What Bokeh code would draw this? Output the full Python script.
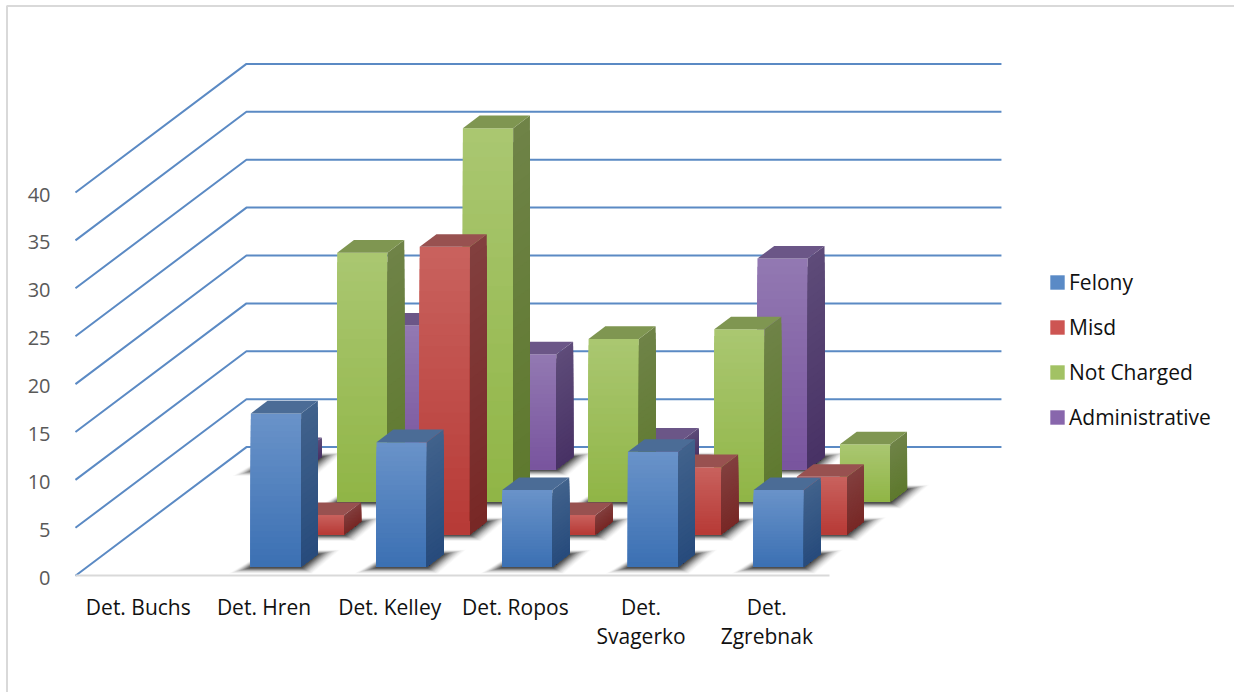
from bokeh.plotting import figure
from bokeh.embed import file_html
from bokeh.resources import INLINE
from bokeh.models import ColumnDataSource, FixedTicker, Legend, LegendItem, LinearAxis, Range1d

# ---- chart values ----
categories = ["Det. Buchs", "Det. Hren", "Det. Kelley", "Det. Ropos", "Det. Svagerko", "Det. Zgrebnak"]
first_line = ["Det. Buchs", "Det. Hren", "Det. Kelley", "Det. Ropos", "Det.", "Det."]
second_line = ["", "", "", "", "Svagerko", "Zgrebnak"]
felony = [0, 16, 13, 8, 12, 8]
misd = [0, 2, 30, 2, 7, 6]
not_charged = [0, 26, 39, 17, 18, 6]
administrative = [2, 15, 12, 3, 22, 0]
value_ticks = [0, 5, 10, 15, 20, 25, 30, 35, 40]

# ---- page geometry and projection ----
W, H = 1234, 692
PX_X = 125.7   # pixels per category
PX_Y = 9.58    # pixels per value unit
ORG_X, ORG_Y = 137.8, 575.2
DX = 171.0 / PX_X
DY = 128.6 / PX_Y
BAR_W = 0.4
BAR_D = 0.098
D0, DSTEP = 0.07, 0.2525


def proj(x, v, d):
    return x + d * DX, v + d * DY


def mix(a, b, t):
    ca = [int(a[i:i + 2], 16) for i in (1, 3, 5)]
    cb = [int(b[i:i + 2], 16) for i in (1, 3, 5)]
    return "#%02x%02x%02x" % tuple(round(p + (q - p) * t) for p, q in zip(ca, cb))


series = [
    ("Felony", felony, dict(ft="#6a93c9", fb="#3b70b3", st="#41628c", sb="#274b7c", top="#4b6c96", sw="#5a8ac6")),
    ("Misd", misd, dict(ft="#c9625e", fb="#b73a36", st="#823f3e", sb="#782826", top="#985150", sw="#cd5552")),
    ("Not Charged", not_charged, dict(ft="#aac771", fb="#90b546", st="#6f8347", sb="#5e792e", top="#7f9651", sw="#a2c264")),
    ("Administrative", administrative, dict(ft="#9279b2", fb="#79549e", st="#5e4b79", sb="#483265", top="#6b5687", sw="#8866ac")),
]

xs, ys, fill, alpha = [], [], [], []


def add(px, py, color, a=1.0):
    xs.append(px)
    ys.append(py)
    fill.append(color)
    alpha.append(a)


def add_shadow(l, r, d):
    ex_px = 1 / PX_X
    ey_px = 1 / PX_Y
    x0, b = proj(l, 0, d)
    x1, _ = proj(r, 0, d)
    sx = 17 * ex_px
    sy = 12.5 * ey_px
    for e, a in ((22, 0.025), (20, 0.035), (18, 0.045), (16, 0.06), (14, 0.07), (12, 0.09),
                 (10, 0.11), (8, 0.13), (6, 0.15), (4, 0.17), (2, 0.2)):
        px = [x0 - e * ex_px, x1 + 0.5 * e * ex_px, x1 + sx + e * ex_px, x0 + sx]
        py = [b - (1 + 0.26 * e) * ey_px, b - (1 + 0.26 * e) * ey_px,
              b + sy + 0.2 * e * ey_px, b + sy + 0.2 * e * ey_px]
        add(px, py, "#000000", a)


STRIPS = 26
for k in (3, 2, 1, 0):
    name, vals, c = series[k]
    d = D0 + k * DSTEP
    for i, v in enumerate(vals):
        if v <= 0:
            continue
        l, r = i - BAR_W / 2, i + BAR_W / 2
        add_shadow(l, r, d)
        # each strip reaches the foot of the bar; the next one paints over it
        for s in range(STRIPS):
            t0, t1 = s / STRIPS, (s + 1) / STRIPS
            v0 = v * (1 - t0)
            a = proj(l, v0, d); b = proj(r, v0, d); e = proj(r, 0, d); f = proj(l, 0, d)
            col = mix(c["ft"], c["fb"], (t0 + t1) / 2)
            add([a[0], b[0], e[0], f[0]], [a[1], b[1], e[1], f[1]], col)
        for s in range(STRIPS):
            t0, t1 = s / STRIPS, (s + 1) / STRIPS
            v0 = v * (1 - t0)
            a = proj(r, v0, d); b = proj(r, v0, d + BAR_D); e = proj(r, 0, d + BAR_D); f = proj(r, 0, d)
            col = mix(c["st"], c["sb"], (t0 + t1) / 2)
            add([a[0], b[0], e[0], f[0]], [a[1], b[1], e[1], f[1]], col)
        a = proj(l, v, d); b = proj(r, v, d); e = proj(r, v, d + BAR_D); f = proj(l, v, d + BAR_D)
        add([a[0], b[0], e[0], f[0]], [a[1], b[1], e[1], f[1]], c["top"])

y_start, y_end = (ORG_Y - H) / PX_Y, ORG_Y / PX_Y
p = figure(width=W, height=H, output_backend="svg", toolbar_location=None,
           x_range=Range1d(-ORG_X / PX_X, (W - ORG_X) / PX_X),
           y_range=Range1d(y_start, y_end),
           min_border=0, outline_line_color=None, background_fill_color="white")
p.grid.visible = False

# walls: value lines running from the front of the floor to the back wall
LEFT = -0.5
RIGHT_BACK = LEFT + (1001.0 - 246.0) / PX_X
gx, gy = [], []
for v in value_ticks:
    x_f, y_f = proj(LEFT, v, 0)
    x_b, y_b = proj(LEFT, v, 1)
    x_e, _ = proj(RIGHT_BACK, v, 1)
    gx.append([x_f, x_b, x_e])
    gy.append([y_f, y_b, y_b])
p.multi_line(gx, gy, line_color="#5b8ac4", line_width=2)

# chart frame (left and top edge)
p.line([(6.5 - ORG_X) / PX_X, (6.5 - ORG_X) / PX_X, (W - ORG_X) / PX_X],
       [y_start, (ORG_Y - 5.5) / PX_Y, (ORG_Y - 5.5) / PX_Y],
       line_color="#d9d9d9", line_width=2)

p.patches(xs="xs", ys="ys", fill_color="fill", fill_alpha="alpha", line_color=None,
          source=ColumnDataSource(dict(xs=xs, ys=ys, fill=fill, alpha=alpha)))

# axes
cat_ticks = list(range(len(categories)))
xa = p.xaxis[0]
xa.fixed_location = 0
xa.bounds = (-0.5, 5.5)
xa.ticker = FixedTicker(ticks=cat_ticks)
xa.major_label_overrides = {i: t for i, t in zip(cat_ticks, first_line)}
xa.axis_line_color = "#d9d9d9"
xa.axis_line_width = 2
xa.major_tick_line_color = None
xa.minor_tick_line_color = None
xa.major_label_standoff = 11
xa.major_label_text_font = "Open Sans"
xa.major_label_text_font_size = "21px"
xa.major_label_text_color = "#111111"

# second line of the two long category labels
xb = LinearAxis(fixed_location=0, ticker=FixedTicker(ticks=cat_ticks),
                major_label_overrides={i: t for i, t in zip(cat_ticks, second_line)},
                axis_line_color=None, major_tick_line_color=None, minor_tick_line_color=None,
                major_label_standoff=40, major_label_text_font="Open Sans",
                major_label_text_font_size="21px", major_label_text_color="#111111")
p.add_layout(xb, "below")

# value labels sit a little under their lines
LABEL_DROP = 2 / PX_Y
p.extra_y_ranges = {"labels": Range1d(y_start + LABEL_DROP, y_end + LABEL_DROP)}
ya = LinearAxis(y_range_name="labels", fixed_location=(60 - ORG_X) / PX_X,
                ticker=FixedTicker(ticks=value_ticks), axis_line_color=None,
                major_tick_line_color=None, minor_tick_line_color=None,
                major_label_standoff=4, major_label_text_font="Open Sans",
                major_label_text_font_size="20px", major_label_text_color="#595959")
p.add_layout(ya, "left")
p.yaxis[0].visible = False

# legend: the swatch renderers sit outside the visible ranges
items = []
for name, _, c in series:
    r = p.quad(left=[-50], right=[-49], top=[-50], bottom=[-49], fill_color=c["sw"], line_color=None)
    items.append(LegendItem(label=name, renderers=[r]))
leg = Legend(items=items, location=(1048, H - 431), orientation="vertical",
             glyph_width=18, glyph_height=18, label_standoff=3, spacing=17,
             padding=0, margin=0, border_line_color=None, background_fill_alpha=0,
             label_text_font="Open Sans", label_text_font_size="21px", label_text_color="#111111")
p.add_layout(leg, "center")

open("out.html", "w").write(file_html(p, INLINE))
